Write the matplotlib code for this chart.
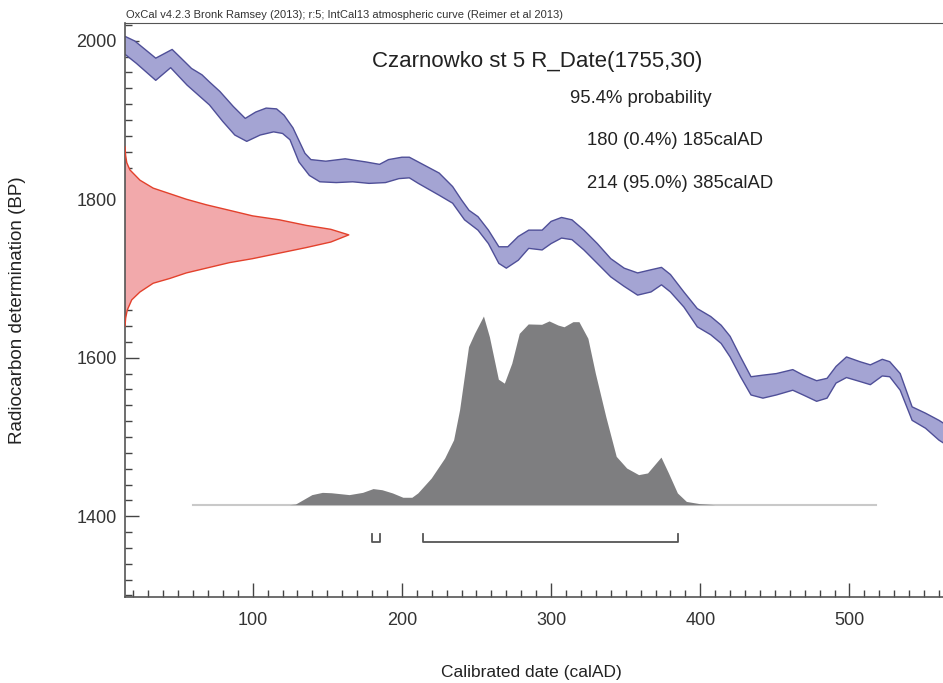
import numpy as np
import matplotlib
matplotlib.use("Agg")
import matplotlib.pyplot as plt
from matplotlib.ticker import MultipleLocator

plt.rcParams["font.family"] = ["Liberation Sans", "DejaVu Sans"]

# Calibration curve band (IntCal13), upper and lower edges
UP_YEAR = [10, 15, 21, 35, 46, 52, 59, 66, 71, 78, 87, 95, 102, 109, 116, 121, 127,
           135, 139, 149, 162, 176, 185, 191, 200, 205, 211, 225, 234, 240, 245, 251,
           258, 265, 271, 278, 285, 294, 300, 307, 314, 322, 331, 340, 349, 358, 367,
           374, 380, 389, 398, 407, 414, 420, 427, 434, 442, 451, 462, 469, 478, 485,
           491, 498, 507, 514, 522, 527, 534, 542, 551, 560, 565]
UP_BP = [2008, 2005, 1999.6, 1978, 1989, 1978, 1965, 1957, 1948, 1936, 1917, 1902, 1910,
         1915, 1914, 1906, 1890, 1858, 1850, 1848, 1851, 1847, 1844, 1850, 1853, 1853,
         1847, 1833, 1816, 1799, 1786, 1778, 1761, 1740, 1740, 1753, 1761, 1761, 1772,
         1777, 1774, 1761, 1744, 1725, 1713, 1707, 1711, 1714, 1705, 1683, 1662, 1652,
         1641, 1627, 1601, 1576, 1578, 1580, 1585, 1578, 1571, 1574, 1589, 1601, 1595,
         1591, 1598, 1595, 1580, 1538, 1530, 1521, 1515]
LOW_YEAR = [10, 15, 22, 35, 45, 56, 65, 71, 80, 88, 96, 105, 114, 120, 125, 131, 138,
            145, 156, 167, 178, 189, 198, 205, 211, 225, 234, 242, 251, 258, 265, 270,
            278, 285, 294, 300, 307, 314, 322, 331, 340, 349, 358, 367, 374, 380, 389,
            398, 407, 414, 420, 427, 434, 442, 451, 462, 469, 478, 485, 491, 498, 507,
            514, 522, 527, 534, 542, 551, 560, 565]
LOW_BP = [1986, 1982, 1971.5, 1950, 1966, 1944, 1929, 1919, 1898, 1881, 1873, 1881, 1885,
          1883, 1875, 1847, 1830, 1822, 1821, 1822, 1820, 1821, 1826, 1827, 1820, 1805,
          1795, 1774, 1761, 1744, 1719, 1713, 1723, 1738, 1736, 1744, 1751, 1749, 1736,
          1719, 1702, 1690, 1679, 1683, 1692, 1683, 1664, 1639, 1629, 1618, 1601, 1576,
          1553, 1549, 1553, 1559, 1553, 1545, 1549, 1568, 1575, 1570, 1566, 1577, 1576,
          1559, 1521, 1511, 1496, 1490]

# Radiocarbon date R_Date(1755,30): relative probability along the BP axis
RED_BP = [1866, 1855, 1846, 1837, 1824, 1814, 1807, 1800, 1793, 1786, 1779, 1774, 1767,
          1762, 1755, 1746, 1739, 1732, 1725, 1720, 1713, 1707, 1700, 1694, 1683, 1673,
          1660, 1650, 1640]
RED_REL = [0.0, 0.003, 0.008, 0.022, 0.067, 0.126, 0.2, 0.274, 0.363, 0.467, 0.57, 0.69,
           0.81, 0.92, 1.0, 0.92, 0.81, 0.69, 0.57, 0.467, 0.363, 0.274, 0.2, 0.126,
           0.067, 0.03, 0.01, 0.003, 0.0]

# Calibrated date: relative probability along the calAD axis
GRAY_YEAR = [125, 129, 140, 147, 153, 165, 174, 181, 187, 194, 201, 207, 211, 220, 229,
             235, 239, 245, 249, 255, 259, 265, 269, 274, 279, 285, 294, 299, 305, 309,
             315, 319, 325, 330, 337, 344, 351, 359, 365, 374, 379, 385, 391, 400, 410]
GRAY_REL = [0, 0.003, 0.053, 0.065, 0.063, 0.053, 0.065, 0.085, 0.079, 0.062, 0.039,
            0.039, 0.062, 0.141, 0.247, 0.344, 0.503, 0.838, 0.908, 1.0, 0.89, 0.665,
            0.644, 0.75, 0.908, 0.958, 0.956, 0.974, 0.952, 0.943, 0.97, 0.97, 0.882,
            0.697, 0.467, 0.256, 0.194, 0.159, 0.168, 0.252, 0.168, 0.062, 0.017,
            0.005, 0.0]

# 95.4% ranges
RANGE_START = [180, 214]
RANGE_END = [185, 385]
RANGE_TEXT = ["180 (0.4%) 185calAD", "214 (95.0%) 385calAD"]

XMIN, XMAX = 14.4, 562.7
YMIN, YMAX = 1298.7, 2023.0
BASE_BP = 1414
GRAY_SCALE = 238
RED_SCALE = 150

W, H = 943, 683
fig = plt.figure(figsize=(W / 100, H / 100), dpi=100)
ax = fig.add_axes([125 / W, 86.5 / H, (W - 125) / W, 574 / H])

# calibration curve band
poly_x = np.concatenate([UP_YEAR, LOW_YEAR[::-1]])
poly_y = np.concatenate([UP_BP, LOW_BP[::-1]])
ax.fill(poly_x, poly_y, facecolor="#a4a4d3", edgecolor="#4f4f98", lw=1.0,
        joinstyle="round", zorder=2)

# radiocarbon date on the y axis
red_x = XMIN + np.array(RED_REL) * RED_SCALE
ax.fill_betweenx(RED_BP, XMIN, red_x, facecolor="#f2a9ab", edgecolor="none", zorder=2)
ax.plot(red_x, RED_BP, color="#e3412c", lw=1.0, zorder=3)

# calibrated distribution
gray_top = BASE_BP + np.array(GRAY_REL) * GRAY_SCALE
ax.plot([60, 518], [BASE_BP, BASE_BP], color="#c9c9c9", lw=1.5, zorder=2)
ax.fill_between(GRAY_YEAR, BASE_BP, gray_top, facecolor="#7e7e80", edgecolor="none", zorder=3)

# range brackets
for s, e in zip(RANGE_START, RANGE_END):
    ax.plot([s, s, e, e], [1378, 1367.5, 1367.5, 1378], color="#555555", lw=1.3, zorder=3)

ax.set_xlim(XMIN, XMAX)
ax.set_ylim(YMIN, YMAX)
ax.xaxis.set_major_locator(MultipleLocator(100))
ax.xaxis.set_minor_locator(MultipleLocator(10))
ax.yaxis.set_major_locator(MultipleLocator(200))
ax.yaxis.set_minor_locator(MultipleLocator(20))
ax.tick_params(which="both", direction="in", colors="#444444", width=1.0,
               labelsize=13, labelcolor="#333333")
ax.tick_params(which="major", length=10)
ax.tick_params(which="minor", length=5)
ax.tick_params(axis="y", pad=5.8)
ax.tick_params(axis="x", pad=11)
ax.spines["right"].set_visible(False)
for side in ["left", "bottom", "top"]:
    ax.spines[side].set_color("#555555")
    ax.spines[side].set_linewidth(1.2)
ax.spines["top"].set_linewidth(0.8)

# texts
fig.text(126 / W, 1 - 18.5 / H,
         "OxCal v4.2.3 Bronk Ramsey (2013); r:5; IntCal13 atmospheric curve (Reimer et al 2013)",
         fontsize=8.05, color="#333333", va="baseline", ha="left")
fig.text(371.7 / W, 1 - 66.7 / H, "Czarnowko st 5 R_Date(1755,30)",
         fontsize=16, color="#222222", va="baseline", ha="left")
fig.text(570 / W, 1 - 103.3 / H, "95.4% probability",
         fontsize=13.3, color="#222222", va="baseline", ha="left")
for txt, yb in zip(RANGE_TEXT, [145, 188.3]):
    fig.text(587.3 / W, 1 - yb / H, txt, fontsize=13.3, color="#222222",
             va="baseline", ha="left")

fig.text(531 / W, 1 - 672 / H, "Calibrated date (calAD)", fontsize=12.5,
         color="#222222", ha="center", va="center")
fig.text(18 / W, 1 - 310 / H, "Radiocarbon determination (BP)", fontsize=13.5,
         color="#222222", ha="center", va="center", rotation=90)

fig.savefig("out.png", dpi=100)
